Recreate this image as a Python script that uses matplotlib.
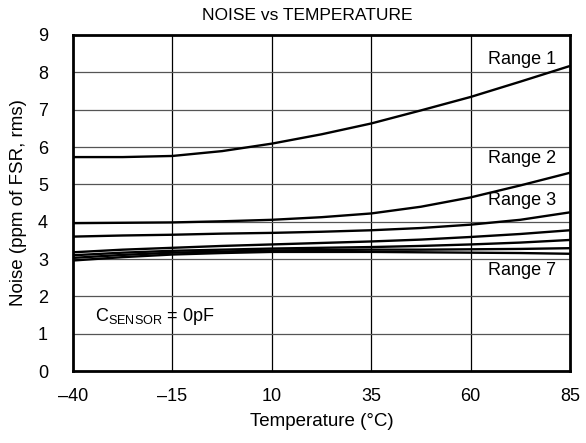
import matplotlib
matplotlib.use("Agg")
import matplotlib.pyplot as plt

plt.rcParams['font.family'] = ['Liberation Sans', 'DejaVu Sans']

temps = [-40, -27.5, -15, -2.5, 10, 22.5, 35, 47.5, 60, 72.5, 85]
range1 = [5.73, 5.73, 5.76, 5.89, 6.09, 6.34, 6.63, 6.98, 7.34, 7.75, 8.17]
range2 = [3.96, 3.97, 3.98, 4.01, 4.05, 4.12, 4.22, 4.40, 4.65, 4.97, 5.31]
range3 = [3.60, 3.63, 3.65, 3.68, 3.70, 3.73, 3.77, 3.83, 3.92, 4.05, 4.25]
range4 = [3.18, 3.25, 3.30, 3.35, 3.39, 3.43, 3.47, 3.52, 3.59, 3.67, 3.77]
range5 = [3.10, 3.17, 3.22, 3.25, 3.28, 3.30, 3.32, 3.35, 3.39, 3.44, 3.51]
range6 = [3.03, 3.11, 3.17, 3.20, 3.23, 3.24, 3.25, 3.25, 3.26, 3.27, 3.29]
range7 = [2.96, 3.05, 3.12, 3.16, 3.19, 3.19, 3.19, 3.18, 3.17, 3.16, 3.14]
series = [range1, range2, range3, range4, range5, range6, range7]

xticks = [-40, -15, 10, 35, 60, 85]
xtick_labels = ['\u201340', '\u201315', '10', '35', '60', '85']
yticks = list(range(0, 10))

fig = plt.figure(figsize=(5.86, 4.43), dpi=100)
ax = fig.add_axes([0.1246, 0.1625, 0.848, 0.7585])

for v in xticks[1:-1]:
    ax.axvline(v, color='black', lw=0.9, zorder=1)
for v in yticks[1:-1]:
    ax.axhline(v, color='#555555', lw=0.9, zorder=1)

for s in series:
    ax.plot(temps, s, color='black', lw=1.7, zorder=3, solid_capstyle='butt')

ax.set_xlim(-40, 85)
ax.set_ylim(0, 9)
ax.set_xticks(xticks)
ax.set_xticklabels(xtick_labels)
ax.set_yticks(yticks)
ax.tick_params(length=0, labelsize=13)
ax.tick_params(axis='y', pad=18)
ax.tick_params(axis='x', pad=12)
for sp in ax.spines.values():
    sp.set_linewidth(2.0)
    sp.set_color('black')

ax.text(81.5, 8.35, 'Range 1', ha='right', va='center', fontsize=13)
ax.text(81.5, 5.70, 'Range 2', ha='right', va='center', fontsize=13)
ax.text(81.5, 4.57, 'Range 3', ha='right', va='center', fontsize=13)
ax.text(81.5, 2.70, 'Range 7', ha='right', va='center', fontsize=13)
ax.text(-34.5, 1.45, r'C$_{\mathregular{SENSOR}}$ = 0pF', ha='left', va='center', fontsize=13)

fig.text(307 / 586, 1 - 15 / 443, 'NOISE vs TEMPERATURE', ha='center', va='center', fontsize=12.5)
ax.set_xlabel('Temperature (\u00b0C)', fontsize=13.5, labelpad=6)
ax.set_ylabel('Noise (ppm of FSR, rms)', fontsize=13.5, labelpad=8)

fig.savefig('out.png', dpi=100)
